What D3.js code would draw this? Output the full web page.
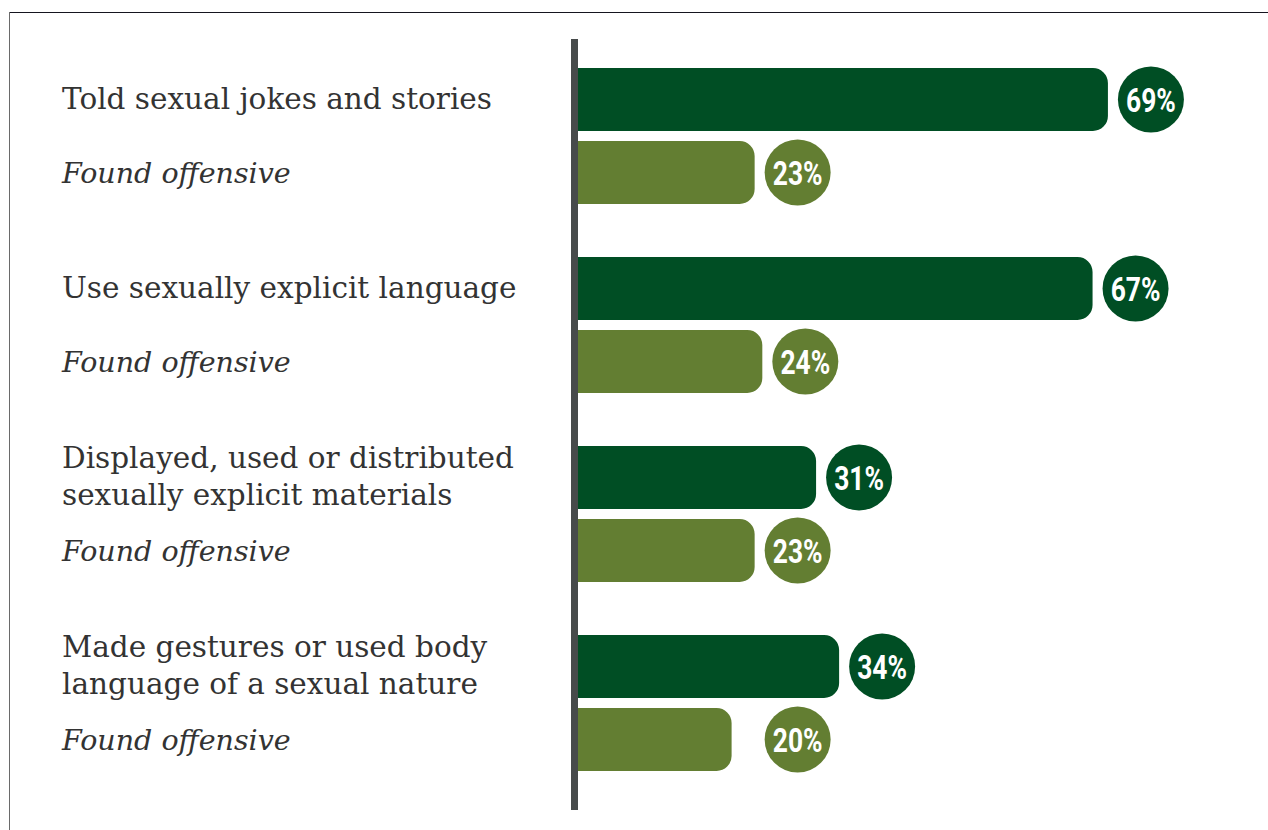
<!DOCTYPE html>
<html>
<head>
<meta charset="utf-8">
<script src="https://cdn.jsdelivr.net/npm/d3@7"></script>
<style>
  html, body { margin: 0; padding: 0; background: #fff; }
  svg { display: block; }
</style>
</head>
<body>
<svg id="chart" width="1268" height="830"></svg>
<script>
// Behaviours and the share who found each one offensive (%)
const categories = [
  ["Told sexual jokes and stories"],
  ["Use sexually explicit language"],
  ["Displayed, used or distributed", "sexually explicit materials"],
  ["Made gestures or used body", "language of a sexual nature"]
];
const experienced = [69, 67, 31, 34];
const foundOffensive = [23, 24, 23, 20];
const subLabel = "Found offensive";
const seriesKeys = ["experienced", "offensive"];

const colors = { experienced: "#004e24", offensive: "#637e32" };

const svg = d3.select("#chart");
const W = 1268, H = 830;

// frame lines
svg.append("line").attr("x1", 9).attr("x2", W).attr("y1", 12.5).attr("y2", 12.5)
  .attr("stroke", "#15151f").attr("stroke-width", 1.2);
svg.append("line").attr("x1", 9.5).attr("x2", 9.5).attr("y1", 12).attr("y2", H)
  .attr("stroke", "#6a6a6a").attr("stroke-width", 1);

const rows = categories.map((c, i) => ({
  idx: i, label: c, values: [experienced[i], foundOffensive[i]]
}));

const axisX = 578;
const x = d3.scaleLinear().domain([0, 100]).range([axisX, axisX + 768]);
const y = d3.scaleBand().domain(d3.range(rows.length)).range([68, 68 + 189 * rows.length]);
const yInner = d3.scaleBand().domain(seriesKeys).range([0, 136]).paddingInner(10 / 73);
const bh = yInner.bandwidth();
const r = 15;

// bar with square left end and rounded right end
function barPath(x0, x1, y0, h) {
  const rr = Math.min(r, (x1 - x0) / 2, h / 2);
  return `M${x0},${y0}H${x1 - rr}A${rr},${rr} 0 0 1 ${x1},${y0 + rr}` +
         `V${y0 + h - rr}A${rr},${rr} 0 0 1 ${x1 - rr},${y0 + h}H${x0}Z`;
}

const g = svg.selectAll("g.row").data(rows).join("g")
  .attr("class", "row")
  .attr("transform", d => `translate(0,${y(d.idx)})`);

const cells = g.selectAll("g.cell")
  .data(d => d.values.map((v, k) => ({ v, key: seriesKeys[k], row: d })))
  .join("g").attr("class", "cell")
  .attr("transform", d => `translate(0,${yInner(d.key)})`);

cells.append("path")
  .attr("d", d => barPath(axisX, x(d.v), 0, bh))
  .attr("fill", d => colors[d.key]);

// value badges; small values share a common minimum position
const badgeX = v => x(Math.max(v, 23)) + 43;
cells.append("circle")
  .attr("cx", d => badgeX(d.v))
  .attr("cy", bh / 2)
  .attr("r", 33)
  .attr("fill", d => colors[d.key]);

// condensed bold figures
cells.append("text")
  .attr("transform", d => `translate(${badgeX(d.v)},${bh / 2 + 12}) scale(0.8,1)`)
  .attr("text-anchor", "middle")
  .attr("fill", "#fff")
  .style("font-family", "Roboto, 'Liberation Sans', sans-serif")
  .style("font-weight", "700")
  .style("font-size", "33px")
  .text(d => d.v + "%");

// category labels, centred on the first bar of each pair
const labelFont = "'DejaVu Serif', 'Liberation Serif', serif";
g.each(function(d) {
  const sel = d3.select(this);
  const cy = yInner("experienced") + bh / 2 + 9;
  const n = d.label.length;
  const lh = 37;
  d.label.forEach((line, j) => {
    sel.append("text")
      .attr("x", 62)
      .attr("y", cy + (j - (n - 1) / 2) * lh)
      .attr("fill", "#333")
      .style("font-family", labelFont)
      .style("font-weight", "300")
      .style("font-size", "29.5px")
      .text(line);
  });
  sel.append("text")
    .attr("x", 62)
    .attr("y", yInner("offensive") + bh / 2 + 10)
    .attr("fill", "#333")
    .style("font-family", labelFont)
    .style("font-style", "italic")
    .style("font-weight", "300")
    .style("font-size", "28.5px")
    .text(subLabel);
});

// vertical baseline
svg.append("line")
  .attr("x1", 574.5).attr("x2", 574.5)
  .attr("y1", 39).attr("y2", 810)
  .attr("stroke", "#474b4b").attr("stroke-width", 7);
</script>
</body>
</html>
